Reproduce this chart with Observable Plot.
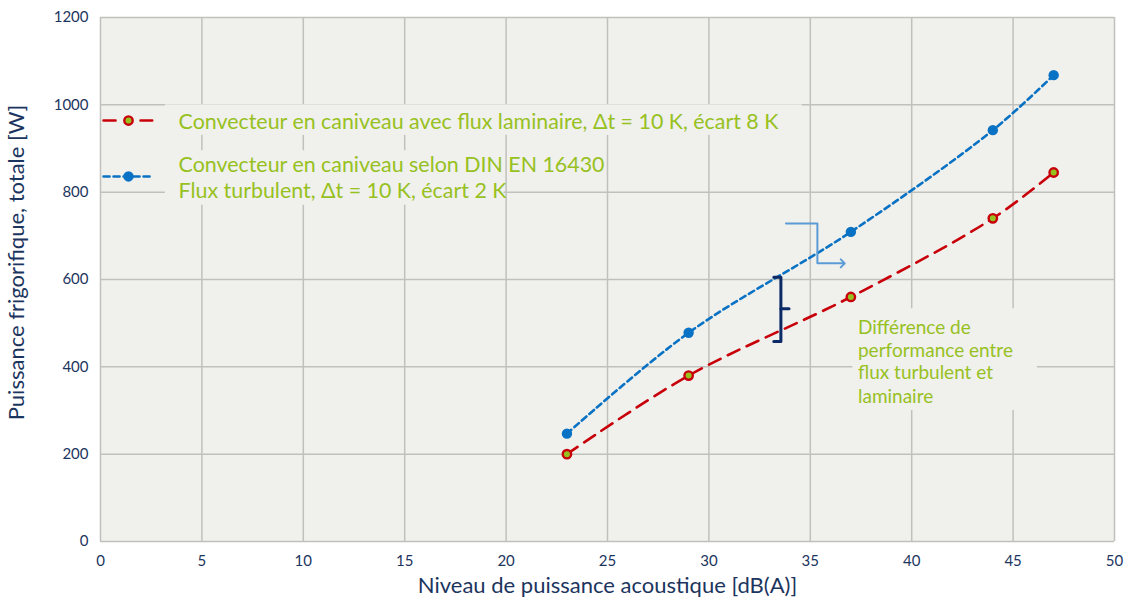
<!DOCTYPE html>
<html>
<head>
<meta charset="utf-8">
<script src="https://cdn.jsdelivr.net/npm/d3@7"></script>
<script src="https://cdn.jsdelivr.net/npm/@observablehq/plot@0.6"></script>
<style>
  body { margin: 0; background: #ffffff; }
  #chart svg { display: block; }
</style>
</head>
<body>
<div id="chart"></div>
<script>
// ---- Data ----
const soundLevel = [23, 29, 37, 44, 47];                 // dB(A)
const laminarPower = [200, 380, 560, 740, 845];          // W
const turbulentPower = [247, 478, 709, 942, 1068];       // W

const xTicks = [0, 5, 10, 15, 20, 25, 30, 35, 40, 45, 50];
const yTicks = [0, 200, 400, 600, 800, 1000, 1200];

const laminarLabel = "Convecteur en caniveau avec flux laminaire, \u0394t = 10 K, écart 8 K";
const turbulentLabel = ["Convecteur en caniveau selon DIN EN 16430", "Flux turbulent, \u0394t = 10 K, écart 2 K"];
const noteLines = ["Différence de", "performance entre", "flux turbulent et", "laminaire"];
const xTitle = "Niveau de puissance acoustique [dB(A)]";
const yTitle = "Puissance frigorifique, totale [W]";

// annotation geometry in data units
const legendLaminarX = [0.15, 2.55], legendLaminarY = 964, legendLaminarDot = 1.38;
const legendTurbX = [0.15, 2.55], legendTurbY = 836, legendTurbDot = 1.38;
const legendTextX = 3.85;
const legendTextY = [960, 863, 802];
const boxes = [
  {x1: 3.2, x2: 34.6, y1: 930, y2: 1000},
  {x1: 3.2, x2: 19.9, y1: 770, y2: 895},
  {x1: 37.1, x2: 46.2, y1: 300, y2: 533}
];
const arrowPath = [{x: 33.8, y: 728}, {x: 35.35, y: 728}, {x: 35.35, y: 637}, {x: 36.6, y: 637}];
const bracketPath = [{x: 33.2, y: 605}, {x: 33.55, y: 605}, {x: 33.55, y: 458}, {x: 33.2, y: 458}];
const bracketTick = [{x: 33.55, y: 533}, {x: 33.95, y: 533}];
const noteX = 37.35, noteY = [490, 437, 385, 332];

// ---- Build tables ----
const laminar = soundLevel.map((x, i) => ({x, y: laminarPower[i]}));
const turbulent = soundLevel.map((x, i) => ({x, y: turbulentPower[i]}));

const RED = "#c8000a", BLUE = "#0a72c4", GREEN = "#97c11f", NAVY = "#1c355e", BG = "#f0f0ec", GRID = "#c0c0bd";
const FONT = "Lato, 'Open Sans', sans-serif";

const chart = Plot.plot({
  width: 1127,
  height: 604,
  marginLeft: 100,
  marginRight: 13,
  marginTop: 17,
  marginBottom: 63,
  style: {fontFamily: FONT, background: "#ffffff"},
  x: {domain: [0, 50], ticks: xTicks, label: null},
  y: {domain: [0, 1200], ticks: yTicks, label: null},
  marks: [
    Plot.frame({fill: BG, stroke: null}),
    Plot.gridX(xTicks, {stroke: GRID, strokeOpacity: 1, strokeWidth: 1.5}),
    Plot.gridY(yTicks, {stroke: GRID, strokeOpacity: 1, strokeWidth: 1.5}),
    Plot.axisX(xTicks, {tickSize: 0, tickPadding: 14, fontSize: 15, fill: NAVY, label: null, tickFormat: d => String(d)}),
    Plot.axisY(yTicks, {tickSize: 0, tickPadding: 12, fontSize: 15, fill: NAVY, label: null, tickFormat: d => String(d)}),
    Plot.text([xTitle], {frameAnchor: "bottom", dy: 51, fontSize: 22, fill: NAVY}),
    Plot.text([yTitle], {frameAnchor: "left", textAnchor: "middle", rotate: -90, dx: -84, dy: -17, fontSize: 22, fill: NAVY}),
    // boxes behind text
    Plot.rect(boxes, {x1: "x1", x2: "x2", y1: "y1", y2: "y2", fill: BG}),
    // series
    Plot.line(laminar, {x: "x", y: "y", stroke: RED, strokeWidth: 2.6, strokeDasharray: "13,8", curve: "catmull-rom"}),
    Plot.line(turbulent, {x: "x", y: "y", stroke: BLUE, strokeWidth: 2.6, strokeDasharray: "6,4", curve: "catmull-rom"}),
    Plot.dot(laminar, {x: "x", y: "y", r: 4.2, fill: GREEN, stroke: RED, strokeWidth: 2.4}),
    Plot.dot(turbulent, {x: "x", y: "y", r: 5.2, fill: BLUE, stroke: null}),
    // legend
    Plot.line(legendLaminarX.map(x => ({x, y: legendLaminarY})), {x: "x", y: "y", stroke: RED, strokeWidth: 2.6, strokeDasharray: "12,25"}),
    Plot.dot([{x: legendLaminarDot, y: legendLaminarY}], {x: "x", y: "y", r: 4.2, fill: GREEN, stroke: RED, strokeWidth: 2.4}),
    Plot.line(legendTurbX.map(x => ({x, y: legendTurbY})), {x: "x", y: "y", stroke: BLUE, strokeWidth: 2.6, strokeDasharray: "6,4"}),
    Plot.dot([{x: legendTurbDot, y: legendTurbY}], {x: "x", y: "y", r: 5.2, fill: BLUE}),
    Plot.text([laminarLabel], {x: legendTextX, y: legendTextY[0], textAnchor: "start", fontSize: 21.4, fill: GREEN}),
    Plot.text(turbulentLabel, {x: legendTextX, y: (d, i) => legendTextY[i + 1], textAnchor: "start", fontSize: 21.4, fill: GREEN}),
    // annotation
    Plot.line(arrowPath, {x: "x", y: "y", stroke: "#5b9bd5", strokeWidth: 2, markerEnd: "arrow"}),
    Plot.line(bracketPath, {x: "x", y: "y", stroke: "#0b2a66", strokeWidth: 3, curve: "linear"}),
    Plot.line(bracketTick, {x: "x", y: "y", stroke: "#0b2a66", strokeWidth: 3}),
    Plot.text(noteLines, {x: noteX, y: (d, i) => noteY[i], textAnchor: "start", fontSize: 19, fill: GREEN})
  ]
});
document.getElementById("chart").appendChild(chart);
</script>
</body>
</html>
